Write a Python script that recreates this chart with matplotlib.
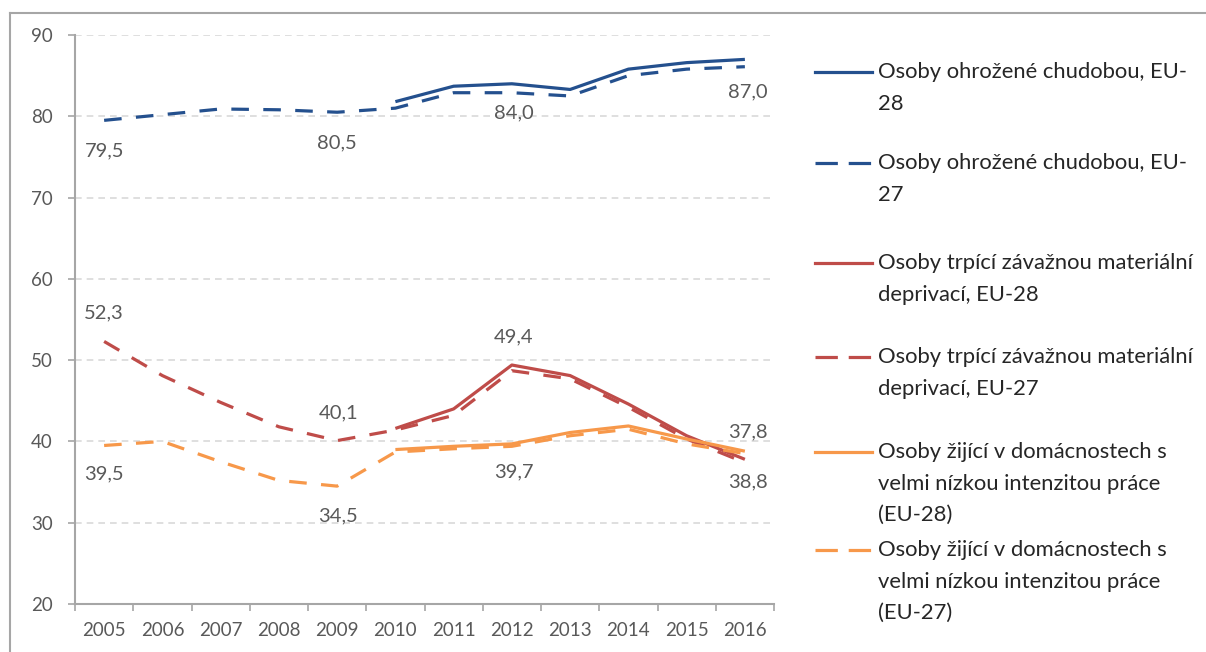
import numpy as np
import matplotlib
matplotlib.use("Agg")
import matplotlib.pyplot as plt
from matplotlib.lines import Line2D

nan = np.nan

years = [str(y) for y in range(2005, 2017)]

pov28 = [nan, nan, nan, nan, nan, 81.8, 83.7, 84.0, 83.3, 85.8, 86.6, 87.0]
pov27 = [79.5, 80.2, 80.9, 80.8, 80.5, 81.0, 82.9, 82.9, 82.5, 85.0, 85.8, 86.1]
dep28 = [nan, nan, nan, nan, nan, 41.6, 44.0, 49.4, 48.1, 44.6, 40.7, 37.8]
dep27 = [52.3, 48.1, 44.8, 41.8, 40.1, 41.4, 43.2, 48.7, 47.7, 44.2, 40.3, 37.4]
wi28 = [nan, nan, nan, nan, nan, 39.0, 39.4, 39.7, 41.1, 41.9, 40.3, 38.8]
wi27 = [39.5, 40.0, 37.5, 35.2, 34.5, 38.7, 39.1, 39.4, 40.7, 41.5, 39.7, 38.5]

labels = [
    "Osoby ohrožené chudobou, EU-\n28",
    "Osoby ohrožené chudobou, EU-\n27",
    "Osoby trpící závažnou materiální\ndeprivací, EU-28",
    "Osoby trpící závažnou materiální\ndeprivací, EU-27",
    "Osoby žijící v domácnostech s\nvelmi nízkou intenzitou práce\n(EU-28)",
    "Osoby žijící v domácnostech s\nvelmi nízkou intenzitou práce\n(EU-27)",
]

BLUE = "#24508e"
RED = "#bf4c49"
ORANGE = "#f7984a"
DASH = (0, (5.5, 4.5))

series = [
    (pov28, BLUE, "-"), (pov27, BLUE, DASH),
    (dep28, RED, "-"), (dep27, RED, DASH),
    (wi28, ORANGE, "-"), (wi27, ORANGE, DASH),
]

# (series index, year index, offset in pixels)
point_labels = [
    (1, 0, (0, -31)), (1, 4, (0, -31)), (0, 7, (2, -29)), (0, 11, (3, -32)),
    (3, 0, (0, 29)), (3, 4, (1, 28)), (2, 7, (2, 28)), (2, 11, (3, 27)),
    (4, 11, (3, -31)), (5, 0, (0, -28)), (5, 4, (1, -30)), (4, 7, (2, -28)),
]

plt.rcParams['font.family'] = ['Lato', 'DejaVu Sans']

W, H = 1206, 652
fig = plt.figure(figsize=(W / 100, H / 100), dpi=100)
ax = fig.add_axes([75 / W, 1 - 604 / H, (774 - 75) / W, (604 - 35) / H])

x = np.arange(len(years))
for vals, col, ls in series:
    ax.plot(x, vals, color=col, lw=2.3, linestyle=ls, solid_capstyle='butt')

for si, yi, off in point_labels:
    v = series[si][0][yi]
    ax.annotate(f"{v:.1f}".replace(".", ","), (x[yi], v), xytext=off,
                textcoords='offset pixels', ha='center', va='center',
                fontsize=14.5, color='#595959')

ax.set_xlim(-0.5, len(years) - 0.5)
ax.set_ylim(20, 90)
ax.set_yticks(range(20, 91, 10))
ax.set_xticks(x)
ax.set_xticklabels(years)
ax.set_xticks(np.arange(-0.5, len(years), 1), minor=True)

for y in range(30, 91, 10):
    ax.axhline(y, color='#d9d9d9', lw=1.2, linestyle=(0, (4, 3)), zorder=0)

for s in ['top', 'right']:
    ax.spines[s].set_visible(False)
for s in ['left', 'bottom']:
    ax.spines[s].set_color('#a6a6a6')
    ax.spines[s].set_linewidth(1.5)

ax.tick_params(axis='y', length=5, width=1.2, color='#a6a6a6', pad=11,
               labelsize=13.5, labelcolor='#595959')
ax.tick_params(axis='x', which='major', length=0, pad=13,
               labelsize=13.5, labelcolor='#595959')
ax.tick_params(axis='x', which='minor', length=5, width=1.2, color='#a6a6a6')

# outer frame (only top and left edges visible)
fig.add_artist(Line2D([10 / W, 10 / W], [0, 1 - 12.5 / H], transform=fig.transFigure,
                      color='#a6a6a6', lw=1.5))
fig.add_artist(Line2D([10 / W, 1], [1 - 12.5 / H, 1 - 12.5 / H], transform=fig.transFigure,
                      color='#a6a6a6', lw=1.5))

# legend drawn by hand, handle level with the first line of the label
leg_y = [72, 163, 263, 357, 452, 550]
for (vals, col, ls), lab, ly in zip(series, labels, leg_y):
    fig.add_artist(Line2D([815 / W, 872 / W], [1 - ly / H, 1 - ly / H],
                          transform=fig.transFigure, color=col, lw=2.3,
                          linestyle=(0, (7, 3.4)) if ls != "-" else "-"))
    fig.text(878 / W, 1 - (ly - 10) / H, lab, ha='left', va='top',
             fontsize=15.8, color='#262626', linespacing=1.72)

fig.savefig("out.png", dpi=100)
